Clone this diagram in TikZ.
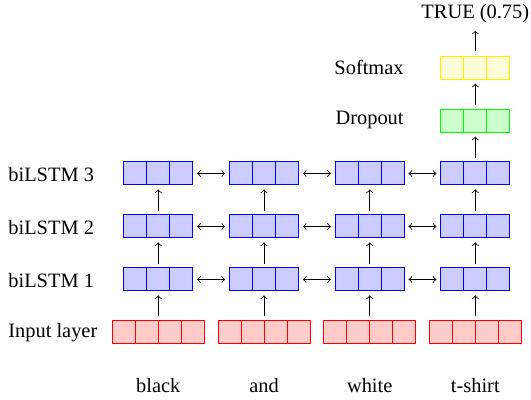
\documentclass[tikz,border=0pt]{standalone}
\usepackage{fontspec}
\setmainfont{Liberation Serif}
\begin{document}
\begin{tikzpicture}[x=0.5pt,y=-0.5pt,
  font=\fontsize{10.2}{12}\selectfont,
  group/.style={rectangle, inner sep=0, outer sep=0, minimum height=11.5pt},
  cell/.style={draw, inner sep=0, outer sep=0, minimum width=11.5pt, minimum height=11.5pt, line width=0.5pt},
  inputcell/.style={cell, draw=red, fill=red!20},
  lstmcell/.style={cell, draw=blue, fill=blue!20},
  dropcell/.style={cell, draw=green, fill=green!20},
  softcell/.style={cell, draw=yellow, fill=yellow!15},
  up/.style={->, shorten <=2.2pt, shorten >=2.2pt},
  side/.style={<->, shorten <=2.2pt, shorten >=2.2pt},
  rowlabel/.style={anchor=base west, inner sep=0},
  word/.style={anchor=base, inner sep=0}
]
\useasboundingbox (0,0) rectangle (531,400);

% column centres (x) and row centres (y)
\def\cA{158.3}\def\cB{264}\def\cC{369.7}\def\cD{475.3}

% input layer: four cells per token
\foreach \c [count=\i] in {\cA,\cB,\cC,\cD} {
  \node[group, minimum width=46pt] (in\i) at (\c,332) {};
  \foreach \k in {-1.5,-0.5,0.5,1.5}
    \node[inputcell] at (\c+\k*23,332) {};
}

% three biLSTM layers: three cells per token
\foreach \r/\y in {1/279.5,2/226.5,3/173.5} {
  \foreach \c [count=\i] in {\cA,\cB,\cC,\cD} {
    \node[group, minimum width=34.5pt] (l\r c\i) at (\c,\y) {};
    \foreach \k in {-1,0,1}
      \node[lstmcell] at (\c+\k*23,\y) {};
  }
}

% dropout and softmax on the last token
\node[group, minimum width=34.5pt] (drop) at (\cD,120.7) {};
\foreach \k in {-1,0,1} \node[dropcell] at (\cD+\k*23,120.7) {};
\node[group, minimum width=34.5pt] (soft) at (\cD,67.8) {};
\foreach \k in {-1,0,1} \node[softcell] at (\cD+\k*23,67.8) {};

\node[inner sep=0] (out) at (\cD,14) {TRUE (0.75)};

% vertical connections
\foreach \i in {1,2,3,4} {
  \draw[up] (in\i) -- (l1c\i);
  \draw[up] (l1c\i) -- (l2c\i);
  \draw[up] (l2c\i) -- (l3c\i);
}
\draw[up] (l3c4) -- (drop);
\draw[up] (drop) -- (soft);
\draw[->, shorten <=2.6pt, shorten >=3.5pt] (soft) -- (out);

% bidirectional links between neighbouring tokens
\foreach \r in {1,2,3} {
  \draw[side] (l\r c1) -- (l\r c2);
  \draw[side] (l\r c2) -- (l\r c3);
  \draw[side] (l\r c3) -- (l\r c4);
}

% row labels
\node[rowlabel] (lab3) at (8,181.5) {biLSTM 3};
\node[rowlabel] (lab2) at (8,234.5) {biLSTM 2};
\node[rowlabel] (lab1) at (8,287.5) {biLSTM 1};
\node[rowlabel] (lab0) at (8,338) {Input layer};
\node[inner sep=0, anchor=base east] (labd) at (404,125) {Dropout};
\node[inner sep=0, anchor=base east] (labs) at (404,75) {Softmax};

% tokens
\node[word] (w1) at (\cA,392.5) {black};
\node[word] (w2) at (\cB,392.5) {and};
\node[word] (w3) at (\cC,392.5) {white};
\node[word] (w4) at (\cD,392.5) {t-shirt};
\end{tikzpicture}
\end{document}
